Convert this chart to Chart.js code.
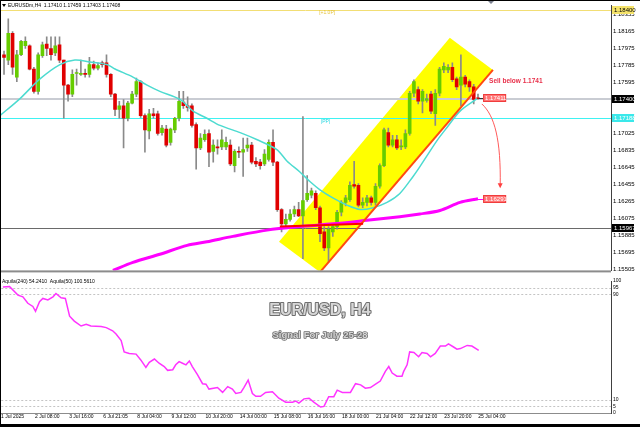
<!DOCTYPE html>
<html>
<head>
<meta charset="utf-8">
<script src="https://cdn.jsdelivr.net/npm/chart.js@4.4.0/dist/chart.umd.min.js"></script>
<style>
  html, body { margin: 0; padding: 0; background: #fff; }
  #wrap { position: relative; width: 640px; height: 427px; overflow: hidden; background: #fff; }
  #main { position: absolute; left: 0; top: 0; }
  #sub { position: absolute; left: 0; top: 276px; }
</style>
</head>
<body>
<div id="wrap">
  <canvas id="main" width="640" height="276"></canvas>
  <canvas id="sub" width="640" height="151"></canvas>
</div>
<script>
// H4 candles, bar 0 = 1 Jul 04:00 ... bar 111 = 25 Jul 04:00
const opens = [1.1790,1.1784,1.1814,1.1765,1.1790,1.1800,1.1800,1.1774,1.1749,1.1789,
  1.1802,1.1797,1.1792,1.1801,1.1784,1.1756,1.1746,1.1769,1.1768,1.1769,
  1.1768,1.1779,1.1775,1.1781,1.1781,1.1768,1.1746,1.1729,1.1733,1.1719,
  1.1736,1.1746,1.1760,1.1722,1.1705,1.1724,1.1724,1.1703,1.1707,1.1692,
  1.1706,1.1719,1.1737,1.1733,1.1733,1.1712,1.1686,1.1695,1.1702,1.1682,
  1.1687,1.1687,1.1687,1.1689,1.1666,1.1682,1.1681,1.1686,1.1689,1.1671,
  1.1670,1.1668,1.1673,1.1692,1.1670,1.1617,1.1601,1.1606,1.1612,1.1617,
  1.1610,1.1628,1.1633,1.1635,1.1619,1.1592,1.1574,1.1592,1.1598,1.1614,
  1.1625,1.1628,1.1645,1.1644,1.1622,1.1625,1.1630,1.1625,1.1643,1.1666,
  1.1703,1.1689,1.1695,1.1687,1.1687,1.1702,1.1747,1.1751,1.1738,1.1739,
  1.1746,1.1724,1.1747,1.1773,1.1773,1.1776,1.1763,1.1756,1.1765,1.1760,
  1.1754,1.17410];
const highs = [1.1794,1.1830,1.1816,1.1795,1.1806,1.1810,1.1801,1.1776,1.1792,1.1804,
  1.1810,1.1810,1.1810,1.1810,1.1784,1.1757,1.1773,1.1774,1.1784,1.1774,
  1.1787,1.1783,1.1781,1.1783,1.1790,1.1769,1.1747,1.1738,1.1740,1.1738,
  1.1749,1.1764,1.1761,1.1724,1.1729,1.1730,1.1727,1.1711,1.1711,1.1708,
  1.1720,1.1749,1.1749,1.1743,1.1735,1.1714,1.1702,1.1706,1.1706,1.1695,
  1.1695,1.1706,1.1698,1.1695,1.1684,1.1687,1.1697,1.1697,1.1692,1.1675,
  1.1673,1.1684,1.1695,1.1706,1.1671,1.1618,1.1612,1.1617,1.1621,1.1625,
  1.1721,1.1655,1.1641,1.1638,1.1621,1.1598,1.1598,1.1600,1.1616,1.1627,
  1.1633,1.1648,1.1671,1.1646,1.1630,1.1633,1.1632,1.1646,1.1668,1.1708,
  1.1708,1.1700,1.1700,1.1695,1.1706,1.1749,1.1762,1.1754,1.1751,1.1746,
  1.1749,1.1751,1.1776,1.1781,1.1779,1.1781,1.1765,1.1790,1.1767,1.1762,
  1.1757,1.17459];
const lows = [1.1768,1.1779,1.1768,1.1760,1.1789,1.1797,1.1773,1.1747,1.1746,1.1787,
  1.1789,1.1784,1.1789,1.1781,1.1719,1.1738,1.1743,1.1756,1.1767,1.1765,
  1.1765,1.1773,1.1773,1.1776,1.1765,1.1743,1.1722,1.1719,1.1686,1.1716,
  1.1735,1.1743,1.1720,1.1681,1.1696,1.1719,1.1700,1.1700,1.1687,1.1689,
  1.1703,1.1716,1.1730,1.1727,1.1709,1.1662,1.1684,1.1693,1.1665,1.1670,
  1.1679,1.1684,1.1684,1.1666,1.1659,1.1675,1.1654,1.1682,1.1668,1.1665,
  1.1662,1.1666,1.1671,1.1666,1.1615,1.1592,1.1598,1.1604,1.1609,1.1609,
  1.1562,1.1626,1.1630,1.1617,1.1581,1.1571,1.1558,1.1587,1.1595,1.1610,
  1.1621,1.1626,1.1641,1.1620,1.1619,1.1621,1.1622,1.1622,1.1641,1.1665,
  1.1687,1.1687,1.1684,1.1684,1.1685,1.1700,1.1743,1.1735,1.1725,1.1737,
  1.1724,1.1711,1.1744,1.1770,1.1770,1.1760,1.1751,1.1733,1.1754,1.1749,
  1.1735,1.17403];
const closes = [1.1787,1.1814,1.1776,1.1790,1.1805,1.1805,1.1774,1.1749,1.1790,1.1801,
  1.1797,1.1790,1.1800,1.1784,1.1756,1.1746,1.1768,1.1770,1.1769,1.1768,
  1.1779,1.1775,1.1778,1.1779,1.1768,1.1746,1.1729,1.1733,1.1719,1.1736,
  1.1746,1.1760,1.1722,1.1706,1.1724,1.1722,1.1702,1.1708,1.1689,1.1707,
  1.1719,1.1738,1.1733,1.1731,1.1711,1.1686,1.1697,1.1701,1.1681,1.1689,
  1.1686,1.1695,1.1692,1.1668,1.1682,1.1681,1.1684,1.1689,1.1670,1.1668,
  1.1666,1.1679,1.1692,1.1670,1.1617,1.1601,1.1606,1.1612,1.1617,1.1610,
  1.1627,1.1635,1.1638,1.1619,1.1590,1.1574,1.1595,1.1598,1.1614,1.1625,
  1.1630,1.1644,1.1643,1.1622,1.1625,1.1630,1.1625,1.1643,1.1666,1.1706,
  1.1689,1.1695,1.1686,1.1688,1.1702,1.1747,1.1760,1.1738,1.1749,1.1741,
  1.1727,1.1747,1.1774,1.1777,1.1776,1.1762,1.1754,1.1765,1.1757,1.1754,
  1.1740,1.17408];

// moving averages, read at points along the curve
const emaX = [-0.94,3.75,8.43,13.1,16.6,20.1,24.1,26.0,30.2,33.5,36.5,41.2,44.3,47.5,50.6,55.3,59.3,63.9,66.3,69.3,71.7,74.0,77.0,80.3,83.4,86.4,89.7,92.7,95.8,97.4,101.4,103.3,106.8,110.8];
const emaY = [1.1722,1.1741,1.1763,1.1779,1.1784,1.1782,1.1779,1.1774,1.1765,1.1756,1.1749,1.1740,1.1727,1.1719,1.1711,1.1703,1.1695,1.1684,1.1671,1.1659,1.1648,1.1639,1.1630,1.1622,1.1617,1.1619,1.1625,1.1635,1.1654,1.1665,1.1694,1.1706,1.1727,1.1741];
const smaX = [25.5,30.2,36.5,42.9,47.5,53.6,61.6,69.3,77.0,85.0,92.7,97.4,102.1,106.8,111.0];
const smaY = [1.1549,1.1558,1.1567,1.1577,1.1581,1.1587,1.1594,1.1598,1.1601,1.1605,1.1609,1.1612,1.1616,1.1625,1.1629];

// Aquila(240) oscillator
const aqX = [-0.55,1.0,2.97,4.14,5.3,6.48,7.1,8.04,8.82,10.0,11.2,11.9,13.1,14.1,15.1,16.2,17.8,19.0,20.1,22.5,23.7,25.2,26.0,27.2,27.9,29.1,30.7,31.8,33.0,33.8,35.0,36.1,37.3,38.1,39.3,40.0,40.8,41.6,42.4,43.2,43.9,45.1,46.3,47.1,47.8,49.8,51.0,52.2,53.3,54.1,55.3,56.0,57.0,58.0,58.8,59.9,61.1,62.7,64.2,65.8,67.4,68.2,68.9,70.1,71.3,72.4,74.0,74.8,75.9,77.1,77.9,79.1,81.0,82.2,83.4,84.5,85.7,86.9,88.0,89.2,90.0,90.8,91.9,93.1,93.5,94.3,94.9,95.9,97.0,97.8,99.0,99.8,100.9,102.1,103.3,104.0,105.2,106.0,106.8,108.4,109.5,111.1];
const aqY = [95.4,95.9,89.3,88.0,83.1,80.7,77.0,84.4,86.8,85.6,88.0,90.5,87.3,86.8,73.3,69.6,65.9,67.2,65.9,65.5,64.7,62.3,59.8,54.9,46.3,45.1,44.6,40.2,34.5,38.4,40.9,37.7,35.2,32.3,32.8,36.5,38.9,37.7,36.5,39.4,35.2,29.1,22.2,21.8,18.1,19.3,15.6,20.0,18.1,14.8,15.6,19.3,24.9,14.8,12.6,12.6,15.6,16.1,11.2,8.2,8.2,9.0,7.5,10.7,11.2,8.2,4.5,5.0,12.4,12.4,17.3,15.6,15.6,22.2,21.3,18.8,19.3,21.8,24.2,31.6,35.2,30.3,27.9,27.9,31.6,36.5,46.3,45.8,42.6,45.8,45.1,42.6,45.1,50.7,50.7,52.4,50.0,48.3,48.8,51.2,50.7,47.5];

// axes
const priceTicks = [1.15505,1.15695,1.15885,1.16075,1.16265,1.16455,1.16645,1.16835,1.17025,1.17215,1.17405,1.17595,1.17785,1.17975,1.18165,1.18355];
const timeBars = [-1,7,15,23,31,39,47,55,63,71,79,87,95,103,111];
const timeLabels = ['1 Jul 2025','2 Jul 08:00','3 Jul 16:00','6 Jul 21:05','8 Jul 04:00','9 Jul 12:00','10 Jul 20:00','14 Jul 00:00','15 Jul 08:00','16 Jul 16:00','18 Jul 00:00','21 Jul 04:00','22 Jul 12:00','23 Jul 20:00','25 Jul 04:00'];
const oscTicks = [0,5,10,90,95,100];
const oscLevels = [5,10,90,95];

// levels and drawings (bar index, price)
const r1Level = 1.18400, lastPrice = 1.17400, ppLevel = 1.17188, supportLevel = 1.15967;
const channelX = [64.4,104.4,114.5,74.0];
const channelY = [1.1581,1.1809,1.1773,1.1547];
const supportSegX = [64.6,84.1], supportSegY = [1.1598,1.1601];
const arrowX = [111.9,114.9,116.4,116.2], arrowY = [1.1735,1.1722,1.1695,1.1643];

const FONT = "'Liberation Sans', Arial, sans-serif";
const upColor = '#66cc00', downColor = '#e00000', wickColor = '#8a8a8a';

function hline(ctx, a, y, color, w) {
  ctx.strokeStyle = color; ctx.lineWidth = w;
  const yy = w % 2 ? Math.round(y) + 0.5 : Math.round(y);
  ctx.beginPath(); ctx.moveTo(a.left, yy); ctx.lineTo(a.right, yy); ctx.stroke();
}
function box(ctx, x, y, w, text, fill, stroke, color) {
  ctx.fillStyle = fill; ctx.fillRect(x, Math.round(y) - 4, w, 8);
  if (stroke) { ctx.strokeStyle = stroke; ctx.lineWidth = 1; ctx.strokeRect(x + 0.5, Math.round(y) - 3.5, w - 1, 7); }
  ctx.fillStyle = color; ctx.font = '6px ' + FONT; ctx.textAlign = 'left'; ctx.textBaseline = 'middle';
  ctx.fillText(text, x + 2, Math.round(y) + 0.5);
}

const mainDecor = {
  id: 'mainDecor',
  beforeDatasetsDraw(chart) {
    const { ctx, chartArea: a } = chart;
    const X = v => chart.scales.x.getPixelForValue(v), Y = v => chart.scales.y.getPixelForValue(v);
    ctx.save();
    ctx.beginPath(); ctx.rect(a.left, a.top, a.right - a.left, a.bottom - a.top); ctx.clip();
    ctx.fillStyle = '#ffff00';
    ctx.beginPath();
    channelX.forEach((x, i) => i ? ctx.lineTo(X(x), Y(channelY[i])) : ctx.moveTo(X(x), Y(channelY[i])));
    ctx.closePath(); ctx.fill();
    hline(ctx, a, Y(r1Level), '#f2de74', 1);
    hline(ctx, a, Y(lastPrice), '#c9ccd3', 2);
    hline(ctx, a, Y(ppLevel), '#3ff2f2', 1);
    hline(ctx, a, Y(supportLevel), '#6a6a6a', 1);
    ctx.restore();
  },
  afterDatasetsDraw(chart) {
    const { ctx, chartArea: a } = chart;
    const X = v => chart.scales.x.getPixelForValue(v), Y = v => chart.scales.y.getPixelForValue(v);
    ctx.save();
    ctx.beginPath(); ctx.rect(a.left, a.top, a.right - a.left, a.bottom - a.top); ctx.clip();
    // channel support edge
    ctx.strokeStyle = '#ff4a10'; ctx.lineWidth = 2;
    ctx.beginPath(); ctx.moveTo(X(channelX[3]), Y(channelY[3])); ctx.lineTo(X(channelX[2]), Y(channelY[2])); ctx.stroke();
    ctx.strokeStyle = '#ff0000';
    ctx.beginPath(); ctx.moveTo(X(supportSegX[0]), Y(supportSegY[0])); ctx.lineTo(X(supportSegX[1]), Y(supportSegY[1])); ctx.stroke();
    // level captions
    ctx.font = '5px ' + FONT; ctx.textAlign = 'left'; ctx.textBaseline = 'middle';
    ctx.fillStyle = '#e6c33c'; ctx.fillText('[+1.0P]', X(73.8), Y(1.18374));
    ctx.fillStyle = '#1fd6e0'; ctx.fillText('|PP|', X(74.2), Y(1.17153));
    // sell text
    ctx.fillStyle = '#e8304a'; ctx.font = 'bold 6.5px ' + FONT;
    ctx.fillText('Sell below 1.1741', X(113.6), Y(1.1760));
    // connectors
    ctx.strokeStyle = '#333'; ctx.lineWidth = 1;
    ctx.beginPath(); ctx.moveTo(X(111) + 1, Math.round(Y(lastPrice)) - 0.5); ctx.lineTo(X(112.2), Math.round(Y(lastPrice)) - 0.5); ctx.stroke();
    ctx.strokeStyle = '#ff00ff';
    ctx.beginPath(); ctx.moveTo(X(111), Math.round(Y(1.1629)) + 0.5); ctx.lineTo(X(112.2), Math.round(Y(1.1629)) + 0.5); ctx.stroke();
    // projection arrow
    ctx.strokeStyle = '#ff5a5a'; ctx.lineWidth = 1;
    ctx.beginPath(); ctx.moveTo(X(arrowX[0]), Y(arrowY[0]));
    ctx.bezierCurveTo(X(arrowX[1]), Y(arrowY[1]), X(arrowX[2]), Y(arrowY[2]), X(arrowX[3]), Y(arrowY[3]));
    ctx.stroke();
    const ax = X(arrowX[3]), ay = Y(arrowY[3]);
    ctx.fillStyle = '#ff4040';
    ctx.beginPath(); ctx.moveTo(ax - 2.5, ay - 3); ctx.lineTo(ax + 2.5, ay - 3); ctx.lineTo(ax, ay + 2); ctx.closePath(); ctx.fill();
    // price boxes
    box(ctx, X(112.2), Y(1.1741) - 0.5, 23, '1.17411', '#ff7474', '#f03c3c', '#fff');
    box(ctx, X(112.2), Y(1.1629), 23, '1.16291', '#ff7474', '#f03c3c', '#fff');
    ctx.restore();
  },
  afterDraw(chart) {
    const { ctx, chartArea: a } = chart;
    const Y = v => chart.scales.y.getPixelForValue(v);
    ctx.save();
    // bottom border of the price pane
    ctx.fillStyle = '#8c8c8c'; ctx.fillRect(0, a.bottom, a.right, 2);
    // highlighted prices on the right scale
    box(ctx, a.right + 1, Y(r1Level), 22, '1.18400', '#f5e36a', null, '#000');
    box(ctx, a.right + 1, Y(lastPrice), 22, '1.17400', '#000', null, '#fff');
    box(ctx, a.right + 1, Y(ppLevel), 22, '1.17188', '#3ae8ea', null, '#fff');
    box(ctx, a.right + 1, Y(supportLevel), 22, '1.15967', '#000', null, '#fff');
    // header
    ctx.fillStyle = '#000'; ctx.font = '5px ' + FONT; ctx.textAlign = 'left'; ctx.textBaseline = 'middle';
    ctx.beginPath(); ctx.moveTo(2, 4); ctx.lineTo(6, 4); ctx.lineTo(4, 7); ctx.closePath(); ctx.fill();
    ctx.fillText('EURUSDm,H4  1.17410 1.17459 1.17403 1.17408', 8, 5.5);
    // shift marker
    ctx.fillStyle = '#7a8090';
    ctx.beginPath(); ctx.moveTo(488, 1); ctx.lineTo(494, 1); ctx.lineTo(491, 4); ctx.closePath(); ctx.fill();
    // window frame
    ctx.fillStyle = '#000'; ctx.fillRect(0, 0, 640, 1); ctx.fillRect(0, 0, 1, 276);
    ctx.restore();
  }
};

const subDecor = {
  id: 'subDecor',
  beforeDatasetsDraw(chart) {
    const { ctx, chartArea: a } = chart;
    const Y = v => chart.scales.y.getPixelForValue(v);
    ctx.save();
    ctx.strokeStyle = '#c4c4c4'; ctx.lineWidth = 1; ctx.setLineDash([2, 2]);
    oscLevels.forEach(l => { const y = Math.round(Y(l)) + 0.5; ctx.beginPath(); ctx.moveTo(a.left, y); ctx.lineTo(a.right, y); ctx.stroke(); });
    ctx.setLineDash([]);
    // watermark text
    ctx.textAlign = 'center'; ctx.textBaseline = 'alphabetic'; ctx.lineJoin = 'round';
    ctx.font = 'bold 16px ' + FONT;
    ctx.strokeStyle = '#6e6e6e'; ctx.lineWidth = 2; ctx.strokeText('EUR/USD, H4', 320, 39);
    ctx.fillStyle = '#d6d6d6'; ctx.fillText('EUR/USD, H4', 320, 39);
    ctx.font = 'bold 9.5px ' + FONT;
    ctx.lineWidth = 1.6; ctx.strokeText('Signal For July 25-28', 320, 62);
    ctx.fillText('Signal For July 25-28', 320, 62);
    ctx.restore();
  },
  afterDraw(chart) {
    const { ctx } = chart;
    ctx.save();
    ctx.fillStyle = '#000'; ctx.font = '5px ' + FONT; ctx.textAlign = 'left'; ctx.textBaseline = 'middle';
    ctx.fillText('Aquila(240) 54.2410  Aquila(50) 100.5610', 2, 5.5);
    ctx.fillRect(0, 0, 1, 151); ctx.fillRect(0, 148, 640, 3);
    ctx.restore();
  }
};

const xMin = -0.94, xMax = 142.15;

new Chart(document.getElementById('main'), {
  type: 'bar',
  data: {
    datasets: [
      { type: 'line', data: smaX.map((x, i) => ({ x, y: smaY[i] })), borderColor: '#ff00ff', borderWidth: 3, pointRadius: 0, tension: 0.3, order: 1 },
      { type: 'line', data: emaX.map((x, i) => ({ x, y: emaY[i] })), borderColor: '#4ddbd0', borderWidth: 1.5, pointRadius: 0, tension: 0.3, order: 2 },
      { data: opens.map((o, i) => ({ x: i, y: [o, closes[i]] })), backgroundColor: opens.map((o, i) => closes[i] >= o ? upColor : downColor),
        barThickness: 3, minBarLength: 1, grouped: false, order: 4 },
      { data: highs.map((h, i) => ({ x: i, y: [lows[i], h] })), backgroundColor: wickColor, barThickness: 1, grouped: false, order: 5 }
    ]
  },
  options: {
    responsive: false, animation: false, devicePixelRatio: 1,
    layout: { padding: { top: 1, bottom: 1, left: 0, right: 0 } },
    plugins: { legend: { display: false }, tooltip: { enabled: false } },
    scales: {
      x: { type: 'linear', min: xMin, max: xMax, offset: false, display: false, grid: { display: false } },
      y: {
        position: 'right', min: 1.15490, max: 1.18449, beginAtZero: false,
        grid: { display: false, drawTicks: false },
        border: { display: true, color: '#404040', width: 1 },
        afterBuildTicks: s => { s.ticks = priceTicks.map(v => ({ value: v })); },
        afterFit: s => { s.width = 29; },
        ticks: { padding: 2, color: '#000', font: { family: FONT, size: 6 }, autoSkip: false, callback: v => v.toFixed(5) }
      }
    }
  },
  plugins: [mainDecor]
});

new Chart(document.getElementById('sub'), {
  type: 'line',
  data: {
    datasets: [
      { data: aqX.map((x, i) => ({ x, y: aqY[i] })), borderColor: '#ff33ff', borderWidth: 1.5, pointRadius: 0, tension: 0 }
    ]
  },
  options: {
    responsive: false, animation: false, devicePixelRatio: 1,
    layout: { padding: { top: 1, bottom: 0, left: 0, right: 0 } },
    plugins: { legend: { display: false }, tooltip: { enabled: false } },
    scales: {
      x: {
        type: 'linear', min: xMin, max: xMax, offset: false,
        grid: { display: false, drawTicks: false },
        border: { display: true, color: '#8c8c8c', width: 1 },
        afterBuildTicks: s => { s.ticks = timeBars.map(v => ({ value: v })); },
        afterFit: s => { s.height = 14; },
        ticks: { align: 'start', padding: 1, maxRotation: 0, autoSkip: false, color: '#000', font: { family: FONT, size: 5 },
          callback: (v, i) => timeLabels[i] }
      },
      y: {
        position: 'right', min: 0, max: 100,
        grid: { display: false, drawTicks: false },
        border: { display: true, color: '#404040', width: 1 },
        afterBuildTicks: s => { s.ticks = oscTicks.map(v => ({ value: v })); },
        afterFit: s => { s.width = 29; },
        ticks: { padding: 2, color: '#000', font: { family: FONT, size: 5 }, autoSkip: false, callback: v => String(v) }
      }
    }
  },
  plugins: [subDecor]
});
</script>
</body>
</html>
